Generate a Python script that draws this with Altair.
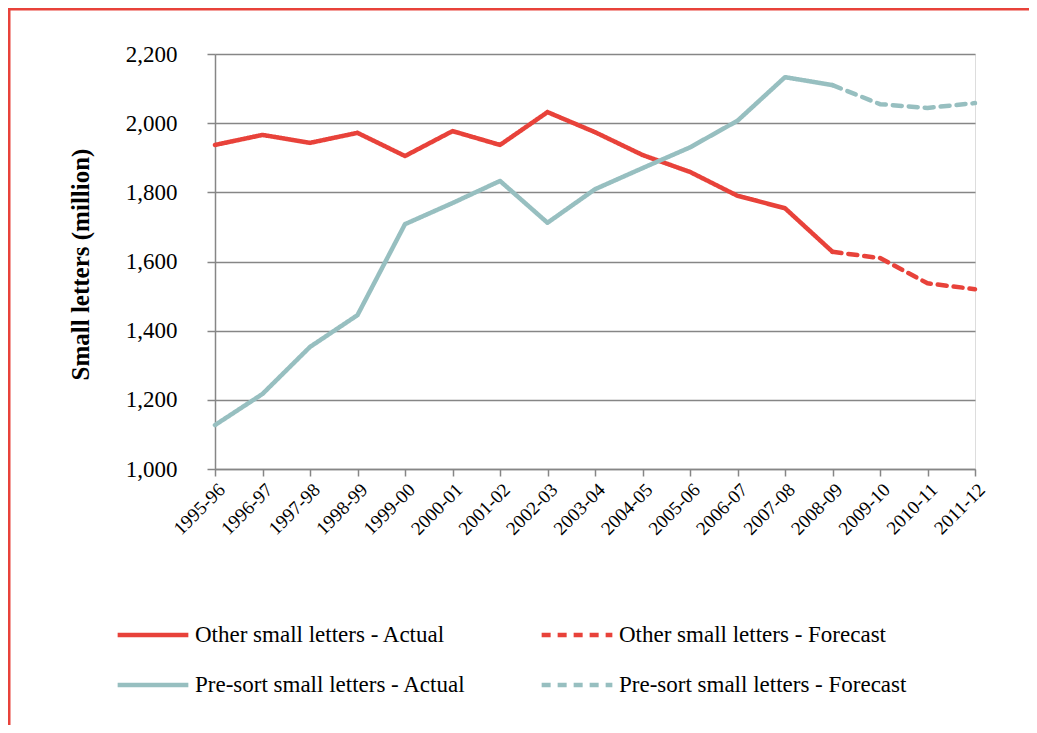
import altair as alt
import pandas as pd

years = ["1995-96", "1996-97", "1997-98", "1998-99", "1999-00", "2000-01", "2001-02",
         "2002-03", "2003-04", "2004-05", "2005-06", "2006-07", "2007-08", "2008-09",
         "2009-10", "2010-11", "2011-12"]

other_actual = [1937, 1966, 1943, 1972, 1905, 1977, 1937, 2032, 1974, 1908, 1859, 1790, 1754, 1628]
other_forecast = [1628, 1610, 1537, 1520]
presort_actual = [1127, 1217, 1353, 1445, 1708, 1769, 1833, 1712, 1809, 1870, 1930, 2007, 2133, 2110]
presort_forecast = [2110, 2055, 2044, 2058]

series_names = ["Other small letters  - Actual", "Other small letters  - Forecast",
                "Pre-sort small letters  - Actual", "Pre-sort small letters  - Forecast"]
series_colors = ["#E8423A", "#E8423A", "#97BFC0", "#97BFC0"]
series_dash = [[1, 0], [9, 7], [1, 0], [9, 7]]

rows = []
for name, vals, start in [(series_names[0], other_actual, 0),
                          (series_names[1], other_forecast, 13),
                          (series_names[2], presort_actual, 0),
                          (series_names[3], presort_forecast, 13)]:
    for i, v in enumerate(vals):
        rows.append({"year": years[start + i], "value": v, "series": name, "order": start + i})
df = pd.DataFrame(rows)

FONT = "'Liberation Serif', 'Times New Roman', serif"

legend_opts = dict(title=None, orient="none", legendX=-100, legendY=543,
                   columns=2, direction="horizontal", columnPadding=43,
                   rowPadding=-24, symbolType="stroke", symbolSize=5000,
                   symbolStrokeWidth=4.5, labelFont=FONT, labelFontSize=23,
                   labelColor="#000000", labelLimit=500, labelOffset=4, gridAlign="all")

lines = alt.Chart(df).mark_line(strokeWidth=4.5, strokeCap="round", strokeJoin="round").encode(
    x=alt.X("year:N", sort=years, scale=alt.Scale(type="point", padding=0),
            axis=alt.Axis(title=None, labelAngle=-45, labelFontSize=19, labelFont=FONT,
                          labelColor="#000000", tickColor="#868686", tickSize=7, tickWidth=1.5,
                          domainColor="#868686", domainWidth=1.5, labelPadding=4, grid=False)),
    y=alt.Y("value:Q", scale=alt.Scale(domain=[1000, 2200], nice=False),
            axis=alt.Axis(title="Small letters  (million)", values=list(range(1000, 2201, 200)),
                          format=",.0f", labelFontSize=23, labelFont=FONT, labelColor="#000000",
                          labelPadding=30, tickColor="#868686", tickSize=8, tickWidth=1.5,
                          domainColor="#868686", domainWidth=1.5, grid=True,
                          gridColor="#868686", gridWidth=1.5,
                          titleFont=FONT, titleFontSize=25, titleFontWeight="bold",
                          titleColor="#000000", titleX=-135, titleY=210,
                          titleAngle=-90, titleAlign="center", titleBaseline="middle")),
    color=alt.Color("series:N", sort=series_names,
                    scale=alt.Scale(domain=series_names, range=series_colors),
                    legend=alt.Legend(**legend_opts)),
    strokeDash=alt.StrokeDash("series:N", sort=series_names,
                              scale=alt.Scale(domain=series_names, range=series_dash),
                              legend=alt.Legend(**legend_opts)),
    order="order:Q",
)

one = pd.DataFrame({"a": [0]})
border_top = alt.Chart(one).mark_rule(stroke="#E8423A", strokeWidth=3, clip=False).encode(
    x=alt.value(-207), x2=alt.value(900), y=alt.value(-45))
border_left = alt.Chart(one).mark_rule(stroke="#E8423A", strokeWidth=3, clip=False).encode(
    x=alt.value(-206), y=alt.value(-46), y2=alt.value(700))

chart = alt.layer(lines, border_top, border_left).properties(
    width=760, height=415,
    autosize=alt.AutoSizeParams(type="none"),
    padding={"left": 207, "top": 46, "right": 54, "bottom": 256},
).configure_view(stroke=None).configure(font=FONT).configure_legend(labelFont=FONT, labelFontSize=23)

chart.save("out.html", embed_options={"renderer": "svg", "actions": False})
